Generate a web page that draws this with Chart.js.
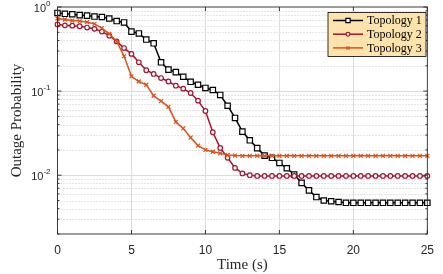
<!DOCTYPE html>
<html lang="en">
<head>
<meta charset="UTF-8"/>
<title>Outage Probability vs Time</title>
<script src="https://cdn.jsdelivr.net/npm/chart.js@4.4.1/dist/chart.umd.min.js"></script>
<style>
  html, body { margin: 0; padding: 0; background: #fff; }
</style>
</head>
<body>
<canvas id="outage" width="443" height="274"></canvas>
<script>
  // time axis (s)
  const timeS = [0, 0.5, 1, 1.5, 2, 2.5, 3, 3.5, 4, 4.5, 5, 5.5, 6, 6.5, 7, 7.5, 8, 8.5, 9, 9.5,
    10, 10.5, 11, 11.5, 12, 12.5, 13, 13.5, 14, 14.5, 15, 15.5, 16, 16.5, 17, 17.5, 18, 18.5, 19, 19.5,
    20, 20.5, 21, 21.5, 22, 22.5, 23, 23.5, 24, 24.5, 25];

  const topology1 = [0.85, 0.83, 0.82, 0.80, 0.79, 0.77, 0.76, 0.73, 0.68, 0.655,
    0.51, 0.485, 0.41, 0.37, 0.22, 0.18, 0.168, 0.148, 0.129, 0.119,
    0.109, 0.103, 0.090, 0.067, 0.048, 0.033, 0.026, 0.021, 0.0171, 0.0161,
    0.0140, 0.0121, 0.0102, 0.0081, 0.0066, 0.0055, 0.0050, 0.0049, 0.0048, 0.0047,
    0.0047, 0.0047, 0.0047, 0.0047, 0.0047, 0.0047, 0.0047, 0.0047, 0.0047, 0.0047, 0.0047];

  const topology2 = [0.62, 0.605, 0.60, 0.59, 0.57, 0.55, 0.51, 0.456, 0.39, 0.325,
    0.277, 0.22, 0.177, 0.16, 0.143, 0.13, 0.116, 0.107, 0.095, 0.077,
    0.058, 0.0324, 0.0211, 0.0161, 0.0122, 0.0105, 0.0100, 0.0098, 0.0098, 0.0098,
    0.0098, 0.0098, 0.0098, 0.0098, 0.0098, 0.0098, 0.0098, 0.0098, 0.0098, 0.0098,
    0.0098, 0.0098, 0.0098, 0.0098, 0.0098, 0.0098, 0.0098, 0.0098, 0.0098, 0.0098, 0.0098];

  const topology3 = [0.73, 0.71, 0.69, 0.68, 0.66, 0.63, 0.56, 0.48, 0.39, 0.26,
    0.15, 0.13, 0.119, 0.088, 0.076, 0.065, 0.043, 0.036, 0.028, 0.0225,
    0.0200, 0.0190, 0.0182, 0.0174, 0.0171, 0.0170, 0.0170, 0.0170, 0.0170, 0.0170,
    0.0170, 0.0170, 0.0170, 0.0170, 0.0170, 0.0170, 0.0170, 0.0170, 0.0170, 0.0170,
    0.0170, 0.0170, 0.0170, 0.0170, 0.0170, 0.0170, 0.0170, 0.0170, 0.0170, 0.0170, 0.0170];

  const seriesNames = ['Topology 1', 'Topology 2', 'Topology 3'];
  const xTicks = [0, 5, 10, 15, 20, 25];
  const yTicks = [0.01, 0.1, 1];
  const yTickExp = ['-2', '-1', '0'];

  const axisColor = '#262626';
  const sansFont = '"Liberation Sans", Arial, sans-serif';
  const serifFont = '"Liberation Serif", "Times New Roman", serif';

  // minor log positions 2..9 x 10^n
  const yMinor = [];
  [0.001, 0.01, 0.1].forEach(d => { for (let k = 2; k <= 9; k++) yMinor.push(+(k * d).toPrecision(3)); });

  const pts = vals => timeS.map((t, i) => ({ x: t, y: vals[i] }));

  function seg(ctx, x1, y1, x2, y2) {
    ctx.beginPath(); ctx.moveTo(x1, y1); ctx.lineTo(x2, y2); ctx.stroke();
  }

  const frame = {
    id: 'frame',
    beforeDatasetsDraw(chart) {
      const { ctx, chartArea: a, scales: { x, y } } = chart;
      ctx.save();
      ctx.lineWidth = 1;
      ctx.strokeStyle = '#cccccc';
      ctx.setLineDash([1, 2]);
      yMinor.forEach(v => {
        if (v <= 0.002) return;
        const py = Math.round(y.getPixelForValue(v)) + 0.5;
        seg(ctx, a.left, py, a.right, py);
      });
      ctx.setLineDash([]);
      ctx.strokeStyle = '#dcdcdc';
      yTicks.slice(0, 2).forEach(v => {
        const py = Math.round(y.getPixelForValue(v)) + 0.5;
        seg(ctx, a.left, py, a.right, py);
      });
      xTicks.slice(1, -1).forEach(v => {
        const px = Math.round(x.getPixelForValue(v)) + 0.5;
        seg(ctx, px, a.top, px, a.bottom);
      });
      ctx.restore();
    },
    afterDatasetsDraw(chart) {
      const { ctx, chartArea: a, scales: { x, y } } = chart;
      ctx.save();
      ctx.strokeStyle = axisColor;
      ctx.lineWidth = 0.9;
      ctx.strokeRect(a.left, a.top, a.right - a.left, a.bottom - a.top);
      // inward ticks
      xTicks.forEach(v => {
        const px = x.getPixelForValue(v);
        seg(ctx, px, a.bottom, px, a.bottom - 4);
        seg(ctx, px, a.top, px, a.top + 4);
      });
      yTicks.forEach(v => {
        const py = y.getPixelForValue(v);
        seg(ctx, a.left, py, a.left + 4, py);
        seg(ctx, a.right, py, a.right - 4, py);
      });
      yMinor.forEach(v => {
        const py = y.getPixelForValue(v);
        seg(ctx, a.left, py, a.left + 2, py);
        seg(ctx, a.right, py, a.right - 2, py);
      });
      // y tick labels as 10^n
      ctx.fillStyle = axisColor;
      ctx.textBaseline = 'middle';
      yTicks.forEach((v, i) => {
        const py = y.getPixelForValue(v);
        ctx.font = '8px ' + sansFont;
        const ew = ctx.measureText(yTickExp[i]).width;
        ctx.textAlign = 'right';
        ctx.fillText(yTickExp[i], a.left - 7, py - 3);
        ctx.font = '11px ' + sansFont;
        ctx.fillText('10', a.left - 7 - ew, py + 1.5);
      });
      ctx.restore();
    },
    afterDraw(chart) {
      const { ctx } = chart;
      const bx = 328, by = 12.5, bw = 98, bh = 44;
      ctx.save();
      ctx.fillStyle = '#fee3ac';
      ctx.fillRect(bx, by, bw, bh);
      ctx.strokeStyle = '#000';
      ctx.lineWidth = 0.8;
      ctx.strokeRect(bx, by, bw, bh);
      chart.data.datasets.forEach((ds, i) => {
        const ry = by + 8 + i * 13.7;
        ctx.strokeStyle = ds.borderColor;
        ctx.lineWidth = ds.borderWidth;
        seg(ctx, bx + 5, ry, bx + 35, ry);
        ctx.fillStyle = ds.pointBackgroundColor;
        ctx.strokeStyle = ds.pointBorderColor;
        ctx.lineWidth = ds.pointBorderWidth;
        Chart.helpers.drawPoint(ctx, { pointStyle: ds.pointStyle, radius: ds.pointRadius * 0.8, rotation: 0, borderWidth: ds.pointBorderWidth }, bx + 20, ry);
        ctx.fillStyle = '#000';
        ctx.font = '12px ' + serifFont;
        ctx.textAlign = 'left';
        ctx.textBaseline = 'middle';
        ctx.fillText(ds.label, bx + 39, ry + 0.5);
      });
      ctx.restore();
    }
  };

  const lineSet = (label, vals, color, style, radius, order) => ({
    label, data: pts(vals), order,
    borderColor: color, borderWidth: 1.5, tension: 0, clip: false,
    pointStyle: style, pointRadius: radius, pointBorderWidth: 1.2,
    pointBorderColor: color, pointBackgroundColor: '#fff'
  });

  new Chart(document.getElementById('outage'), {
    type: 'line',
    data: {
      datasets: [
        lineSet(seriesNames[0], topology1, '#000000', 'rect', 3.8, 3),
        lineSet(seriesNames[1], topology2, '#a2142f', 'circle', 2.3, 2),
        lineSet(seriesNames[2], topology3, '#d95319', 'crossRot', 2.8, 1)
      ]
    },
    options: {
      responsive: false,
      animation: false,
      layout: { padding: { left: 0, right: 13, top: 7, bottom: 0 } },
      plugins: { legend: { display: false }, tooltip: { enabled: false } },
      scales: {
        x: {
          type: 'linear', min: 0, max: 25,
          afterBuildTicks: s => { s.ticks = xTicks.map(v => ({ value: v })); },
          afterFit: s => { s.height = 40; },
          grid: { display: false, drawTicks: false },
          border: { display: false },
          ticks: { font: { family: sansFont, size: 12 }, color: axisColor, padding: 9, maxRotation: 0 },
          title: { display: true, text: 'Time (s)', font: { family: serifFont, size: 15 }, color: axisColor, padding: { top: 0, bottom: 0 } }
        },
        y: {
          type: 'logarithmic', min: 0.002, max: 1,
          afterBuildTicks: s => { s.ticks = yTicks.map(v => ({ value: v })); },
          afterFit: s => { s.width = 57.5; },
          grid: { display: false, drawTicks: false },
          border: { display: false },
          ticks: { display: false },
          title: { display: true, text: 'Outage Probability', font: { family: serifFont, size: 15 }, color: axisColor, padding: { top: 8, bottom: 0 } }
        }
      }
    },
    plugins: [frame]
  });
</script>
</body>
</html>
